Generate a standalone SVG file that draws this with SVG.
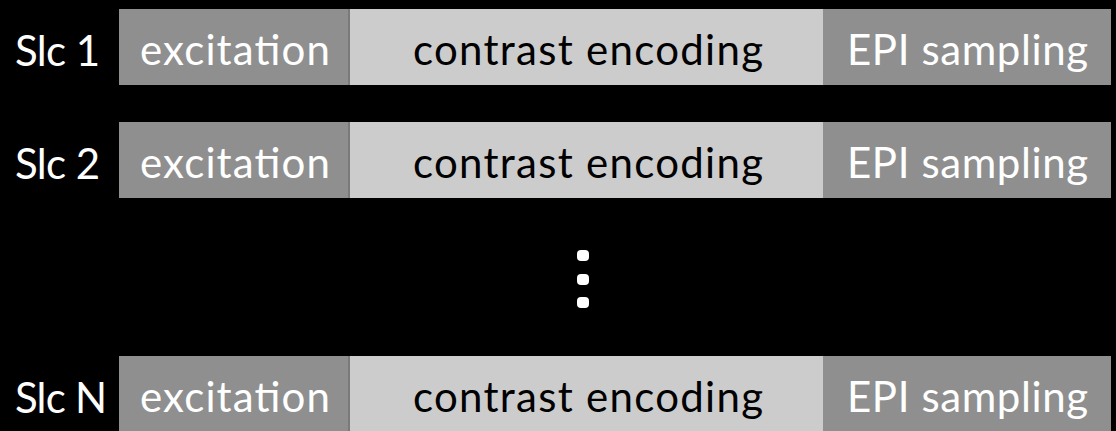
<svg xmlns="http://www.w3.org/2000/svg" width="1116" height="431" viewBox="0 0 1116 431">
<style>
  .dark{fill:#8f8f8f}
  .light{fill:#cccccc}
  .t{font-family:Lato,"Open Sans","Liberation Sans",sans-serif;font-size:42px}
  .w{fill:#ffffff}
  .b{fill:#000000}
  .edge{fill:#7a7a7a}
</style>
<rect x="0" y="0" width="1116" height="431" fill="#000"/>
<g id="row1">
  <text class="t w" x="15" y="66" textLength="85">Slc 1</text>
  <rect class="dark" x="119" y="9" width="231" height="76"/>
  <rect class="light" x="350" y="9" width="473" height="76"/>
  <rect class="edge" x="348" y="9" width="2" height="76"/>
  <rect class="dark" x="823" y="9" width="288" height="76"/>
  <text class="t w" x="235" y="65" text-anchor="middle" textLength="190">excitation</text>
  <text class="t b" x="588" y="65" text-anchor="middle" textLength="350">contrast encoding</text>
  <text class="t w" x="967.5" y="65" text-anchor="middle" textLength="241">EPI sampling</text>
</g>
<g id="row2">
  <text class="t w" x="15" y="179" textLength="85">Slc 2</text>
  <rect class="dark" x="119" y="122" width="231" height="76"/>
  <rect class="light" x="350" y="122" width="473" height="76"/>
  <rect class="edge" x="348" y="122" width="2" height="76"/>
  <rect class="dark" x="823" y="122" width="288" height="76"/>
  <text class="t w" x="235" y="178" text-anchor="middle" textLength="190">excitation</text>
  <text class="t b" x="588" y="178" text-anchor="middle" textLength="350">contrast encoding</text>
  <text class="t w" x="967.5" y="178" text-anchor="middle" textLength="241">EPI sampling</text>
</g>
<g id="dots" fill="#fff">
  <rect x="577" y="250" width="12" height="11" rx="4"/>
  <rect x="577" y="274" width="12" height="11" rx="4"/>
  <rect x="577" y="297" width="12" height="11" rx="4"/>
</g>
<g id="rowN">
  <text class="t w" x="15" y="413" textLength="92">Slc N</text>
  <rect class="dark" x="119" y="356" width="231" height="76"/>
  <rect class="light" x="350" y="356" width="473" height="76"/>
  <rect class="edge" x="348" y="356" width="2" height="76"/>
  <rect class="dark" x="823" y="356" width="288" height="76"/>
  <text class="t w" x="235" y="412" text-anchor="middle" textLength="190">excitation</text>
  <text class="t b" x="588" y="412" text-anchor="middle" textLength="350">contrast encoding</text>
  <text class="t w" x="967.5" y="412" text-anchor="middle" textLength="241">EPI sampling</text>
</g>
<g id="connectors"/>
</svg>
